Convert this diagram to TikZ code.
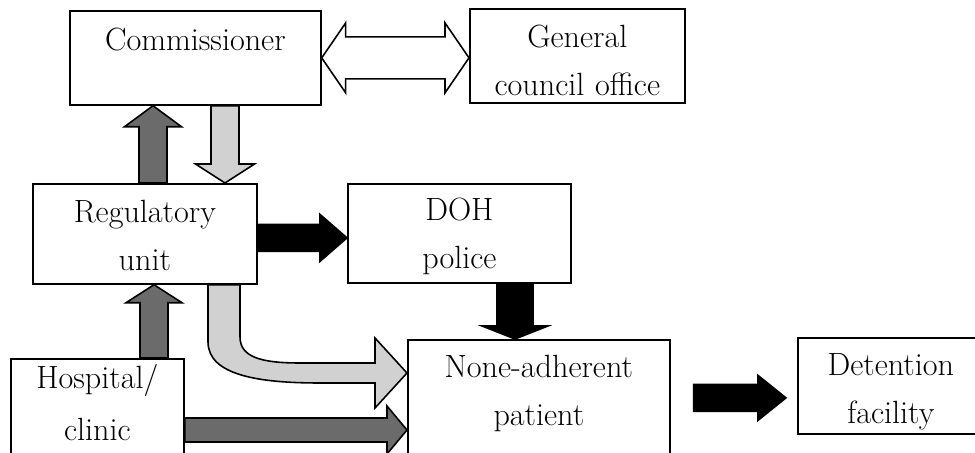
\documentclass[tikz,border=0pt]{standalone}
\usetikzlibrary{calc}

\definecolor{darkfill}{gray}{0.42}
\definecolor{lightfill}{gray}{0.82}

% #1 fill, #2 tail, #3 tip, #4 half shaft, #5 half head, #6 head length
\newcommand\blockarrow[6]{%
        \coordinate (hb) at ($(#3)!#6!(#2)$);
        \draw[arrowline, fill=#1] ($(#2)!#4!90:(#3)$) -- ($(hb)!#4!90:(#3)$)
                -- ($(hb)!#5!90:(#3)$) -- (#3) -- ($(hb)!#5!-90:(#3)$)
                -- ($(hb)!#4!-90:(#3)$) -- ($(#2)!#4!-90:(#3)$) -- cycle;
}
\newcommand\twowayarrow[6]{%
        \coordinate (ha) at ($(#2)!#6!(#3)$);
        \coordinate (hb) at ($(#3)!#6!(#2)$);
        \draw[arrowline, fill=#1] (#2) -- ($(ha)!#5!90:(#3)$) -- ($(ha)!#4!90:(#3)$)
                -- ($(hb)!#4!90:(#3)$) -- ($(hb)!#5!90:(#3)$) -- (#3)
                -- ($(hb)!#5!-90:(#3)$) -- ($(hb)!#4!-90:(#3)$)
                -- ($(ha)!#4!-90:(#3)$) -- ($(ha)!#5!-90:(#3)$) -- cycle;
}

\begin{document}
\begin{tikzpicture}[x=0.02cm, y=-0.02cm,
        unitbox/.style={draw, line width=1pt, inner sep=0pt, anchor=north west, align=center,
                font=\fontsize{18.3}{27.3}\selectfont},
        arrowline/.style={draw, line width=0.9pt, line join=miter}]
        \useasboundingbox (0,0) rectangle (975,453);

        \node[unitbox, text width=5.02cm, text height=0.80cm, text depth=1.08cm] (comm) at (69,10) {Commissioner};
        \node[unitbox, text width=4.30cm, text height=0.78cm, text depth=1.10cm] (gen) at (469,8) {General\\council office};
        \node[unitbox, text width=4.48cm, text height=0.78cm, text depth=1.22cm] (reg) at (32,183) {Regulatory\\unit};
        \node[unitbox, text width=4.46cm, text height=0.74cm, text depth=1.24cm] (doh) at (347,183) {DOH\\police};
        \node[unitbox, text width=5.24cm, text height=0.76cm, text depth=1.86cm] (none) at (407,339) {None-adherent\\patient};
        \node[unitbox, text width=3.46cm, text height=0.60cm, text depth=1.64cm] (hosp) at (10,358) {Hospital/\\[2pt]clinic};
        \node[unitbox, text width=3.72cm, text height=0.76cm, text depth=1.16cm] (det) at (797,337) {Detention\\facility};

        \coordinate (t0) at (comm.east);
        \coordinate (p0) at (t0 -| gen.west);
        \twowayarrow{white}{t0}{p0}{0.42cm}{0.70cm}{0.48cm}

        \coordinate (t1) at ($(reg.north west)+(121,0)$);
        \coordinate (p1) at (t1 |- comm.south);
        \blockarrow{darkfill}{t1}{p1}{0.28cm}{0.57cm}{0.42cm}

        \coordinate (t2) at ($(comm.south west)+(156,0)$);
        \coordinate (p2) at (t2 |- reg.north);
        \blockarrow{lightfill}{t2}{p2}{0.28cm}{0.59cm}{0.38cm}

        \coordinate (t3) at ($(reg.east)+(0,4)$);
        \coordinate (p3) at (t3 -| doh.west);
        \blockarrow{black}{t3}{p3}{0.27cm}{0.47cm}{0.54cm}

        \coordinate (t4) at ($(doh.south west)+(168,0)$);
        \coordinate (p4) at (t4 |- none.north);
        \blockarrow{black}{t4}{p4}{0.36cm}{0.66cm}{0.26cm}

        \coordinate (t5) at ($(hosp.north west)+(144,0)$);
        \coordinate (p5) at (t5 |- reg.south);
        \blockarrow{darkfill}{t5}{p5}{0.28cm}{0.56cm}{0.36cm}

        \coordinate (t6) at ($(hosp.north east)+(0,72)$);
        \coordinate (p6) at (t6 -| none.west);
        \blockarrow{darkfill}{t6}{p6}{0.24cm}{0.48cm}{0.40cm}

        \coordinate (p7) at ($(det.west)+(-11,12)$);
        \coordinate (t7) at ($(p7 -| none.east)+(23,0)$);
        \blockarrow{black}{t7}{p7}{0.27cm}{0.45cm}{0.56cm}

        \coordinate (cs) at ($(reg.south west)+(192,0)$);
        \coordinate (ce) at ($(none.north west)+(0,34)$);
        \draw[arrowline, fill=lightfill] ($(cs)+(-16,0)$) -- ($(cs)+(-16,57)$)
                .. controls ($(cs)+(-16,90)$) and ($(ce)+(-150,10)$) .. ($(ce)+(-87,10)$)
                -- ($(ce)+(-32,10)$) -- ($(ce)+(-32,35)$) -- (ce) -- ($(ce)+(-32,-35)$)
                -- ($(ce)+(-32,-10)$) -- ($(ce)+(-107,-10)$)
                .. controls ($(ce)+(-147,-10)$) and ($(cs)+(16,72)$) .. ($(cs)+(16,52)$)
                -- ($(cs)+(16,0)$) -- cycle;
\end{tikzpicture}
\end{document}
